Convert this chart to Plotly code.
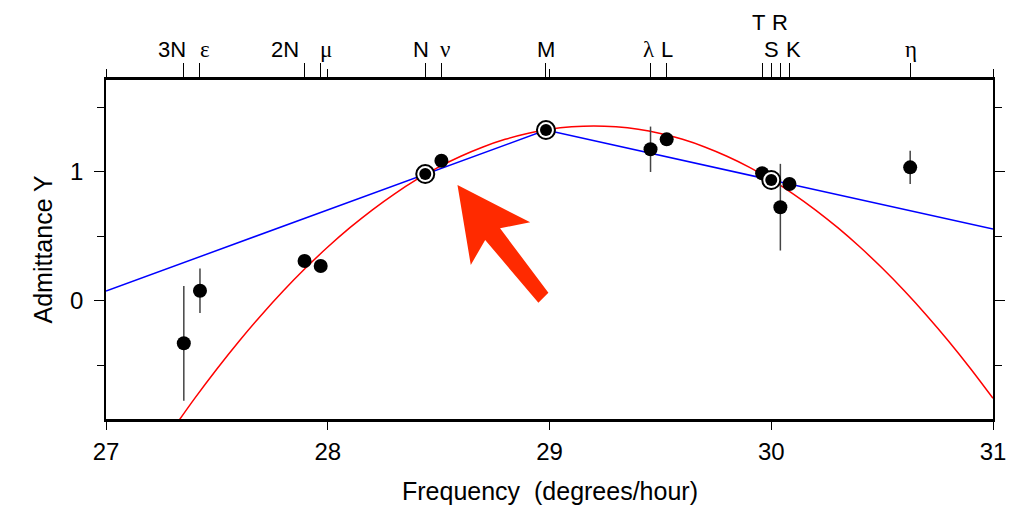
import plotly.graph_objects as go

# ---------------- data ----------------
constituents = ["3N", "ε", "2N", "μ", "N", "ν", "M", "λ", "L", "T", "S", "R", "K", "η"]
frequency = [27.3509, 27.4238, 27.8954, 27.9682, 28.4397, 28.5126, 28.9841,
             29.4556, 29.5285, 29.9589, 30.0000, 30.0411, 30.0821, 30.6265]
admittance = [-0.330, 0.077, 0.308, 0.269, 0.982, 1.085, 1.323,
              1.174, 1.251, 0.988, 0.936, 0.725, 0.905, 1.034]
adm_error = [0.445, 0.172, 0.0, 0.0, 0.0, 0.0, 0.0,
             0.176, 0.0, 0.0, 0.0, 0.336, 0.0, 0.129]
reference_constituents = ["N", "M", "S"]

# linear interpolation through the reference constituents
linear_x = [27.0, 28.4397, 28.9841, 30.0, 31.0]
linear_y = [0.075, 0.982, 1.323, 0.936, 0.555]

# smooth admittance curve
curve_x = [27.3, 27.4, 27.5, 27.6, 27.7, 27.8, 27.9, 28.0, 28.1, 28.2, 28.3, 28.4,
           28.5, 28.6, 28.7, 28.8, 28.9, 29.0, 29.1, 29.2, 29.3, 29.4, 29.5, 29.6,
           29.7, 29.8, 29.9, 30.0, 30.1, 30.2, 30.3, 30.4, 30.5, 30.6, 30.7, 30.8,
           30.9, 31.0]
curve_y = [-0.999, -0.757, -0.529, -0.314, -0.112, 0.077, 0.253, 0.416, 0.566, 0.703,
           0.827, 0.938, 1.036, 1.120, 1.192, 1.251, 1.296, 1.329, 1.348, 1.355,
           1.348, 1.329, 1.296, 1.251, 1.192, 1.120, 1.036, 0.938, 0.827, 0.703,
           0.566, 0.416, 0.253, 0.077, -0.112, -0.314, -0.529, -0.757]

x_ticks = [27, 28, 29, 30, 31]
y_ticks = [0, 1]
y_minor = [-0.5, 0.5, 1.5]
x_range = [27, 31]
y_range = [-0.917, 1.711]

# ---------------- styles ----------------
FONT = "Liberation Sans, Arial, sans-serif"
GREEK_FONT = "Liberation Serif, DejaVu Serif, serif"
GREEK = {"ε", "μ", "ν", "λ", "η"}
# label placement (pixel offsets from the tick, row 0 = lower, 1 = upper)
label_xshift = [-12, 5, -20, 5, -4, 4, 0, -2, 0, -4, 0, 0, 4, 1]
label_row = [0, 0, 0, 0, 0, 0, 0, 0, 0, 1, 0, 1, 0, 0]
# decorative arrow polygon (data coordinates)
ARROW = [(28.585, 0.897), (28.913, 0.608), (28.777, 0.561), (28.995, 0.062),
         (28.950, -0.016), (28.710, 0.471), (28.645, 0.277)]

fig = go.Figure()

fig.add_trace(go.Scatter(x=linear_x, y=linear_y, mode="lines",
                         line=dict(color="#0000ff", width=1.5),
                         hoverinfo="skip", showlegend=False))
fig.add_trace(go.Scatter(x=curve_x, y=curve_y, mode="lines",
                         line=dict(color="#ff0000", width=1.5, shape="spline"),
                         hoverinfo="skip", showlegend=False))

plain_idx = [i for i, c in enumerate(constituents) if c not in reference_constituents]
ref_idx = [i for i, c in enumerate(constituents) if c in reference_constituents]

fig.add_trace(go.Scatter(
    x=[frequency[i] for i in plain_idx], y=[admittance[i] for i in plain_idx],
    xaxis="x2", mode="markers",
    marker=dict(color="black", size=14),
    error_y=dict(type="data", array=[adm_error[i] for i in plain_idx],
                 color="#444444", thickness=1.5, width=0),
    showlegend=False))
fig.add_trace(go.Scatter(
    x=[frequency[i] for i in ref_idx], y=[admittance[i] for i in ref_idx],
    xaxis="x2", mode="markers",
    marker=dict(color="white", size=18, line=dict(color="black", width=2)),
    showlegend=False))
fig.add_trace(go.Scatter(
    x=[frequency[i] for i in ref_idx], y=[admittance[i] for i in ref_idx],
    xaxis="x2", mode="markers",
    marker=dict(color="black", size=12),
    showlegend=False))

path = "M " + " L ".join(f"{x},{y}" for x, y in ARROW) + " Z"
fig.add_shape(type="path", path=path, xref="x", yref="y",
              fillcolor="#ff2a00", line=dict(width=0), layer="above")

annotations = []
for name, f, dx, row in zip(constituents, frequency, label_xshift, label_row):
    annotations.append(dict(
        x=f, xref="x", y=1, yref="paper", text=name, showarrow=False,
        xanchor="center", yanchor="middle", xshift=dx, yshift=31 + 27 * row,
        font=dict(family=GREEK_FONT if name in GREEK else FONT,
                  size=23 if name in GREEK else 22, color="black")))
annotations.append(dict(x=0.5, xref="paper", y=0, yref="paper", yshift=-72,
                        text="Frequency\u00a0\u00a0(degrees/hour)", showarrow=False,
                        xanchor="center", yanchor="middle",
                        font=dict(family=FONT, size=25, color="black")))
annotations.append(dict(x=0, xref="paper", y=0.5, yref="paper", xshift=-64,
                        text="Admittance Y", showarrow=False, textangle=-90,
                        xanchor="center", yanchor="middle",
                        font=dict(family=FONT, size=25, color="black")))

fig.update_layout(
    width=1009, height=509,
    margin=dict(l=106, r=16, t=80, b=90),
    paper_bgcolor="white", plot_bgcolor="white",
    font=dict(family=FONT, size=22, color="black"),
    annotations=annotations,
    xaxis=dict(range=x_range, tickmode="array", tickvals=x_ticks,
               ticktext=[str(v) for v in x_ticks], automargin=False,
               ticks="outside", ticklen=8, tickwidth=1, tickcolor="black",
               showline=True, linewidth=2.5, linecolor="black", mirror="ticks",
               showgrid=False, zeroline=False, ticklabelstandoff=1,
               tickfont=dict(family=FONT, size=24)),
    xaxis2=dict(range=x_range, overlaying="x", side="top", tickmode="array",
                tickvals=frequency, ticks="outside", ticklen=14, tickwidth=1,
                tickcolor="black", showticklabels=False, showline=True,
                automargin=False,
                linewidth=2.5, linecolor="black", showgrid=False, zeroline=False),
    yaxis=dict(range=y_range, tickmode="array", tickvals=y_ticks,
               ticktext=[str(v) for v in y_ticks], automargin=False,
               ticks="outside", ticklen=10, tickwidth=1, tickcolor="black",
               minor=dict(tickmode="array", tickvals=y_minor, ticks="outside",
                          ticklen=7, tickwidth=1, tickcolor="black", showgrid=False),
               showline=True, linewidth=1.5, linecolor="black", mirror="ticks",
               showgrid=False, zeroline=False, ticklabelstandoff=6,
               tickfont=dict(family=FONT, size=24)),
)

fig.write_html("out.html")
